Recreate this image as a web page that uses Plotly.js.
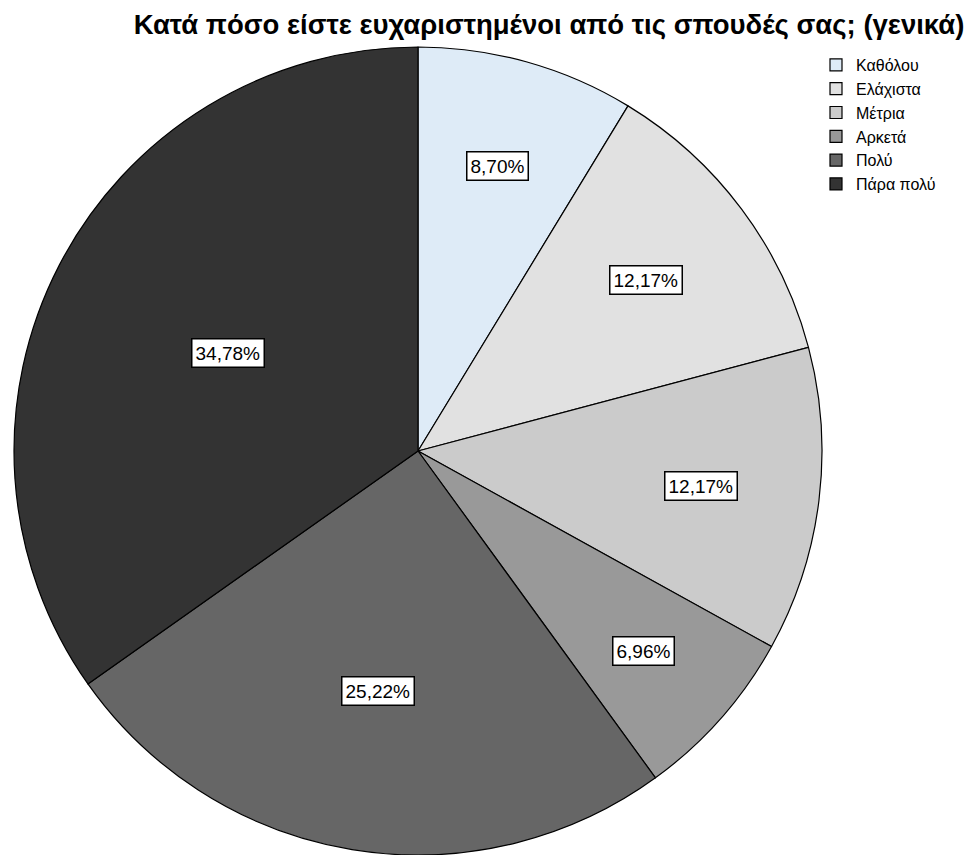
<!DOCTYPE html>
<html>
<head>
<meta charset="utf-8">
<script src="https://cdn.plot.ly/plotly-3.0.1.min.js"></script>
<style>html,body{margin:0;padding:0;background:#fff;}#chart{width:974px;height:855px;}</style>
</head>
<body>
<div id="chart"></div>
<script>
const categories = ["Καθόλου", "Ελάχιστα", "Μέτρια", "Αρκετά", "Πολύ", "Πάρα πολύ"];
const percents = [8.70, 12.17, 12.17, 6.96, 25.22, 34.78];
const labelsText = ["8,70%", "12,17%", "12,17%", "6,96%", "25,22%", "34,78%"];
const sliceColors = ["#deebf7", "#e1e1e1", "#cbcbcb", "#999999", "#666666", "#333333"];

const W = 974, H = 855;
const cx = 418, cyTop = 451, R = 404;

const total = percents.reduce((a, b) => a + b, 0);
const annotations = [];
let cum = 0;
percents.forEach((p, i) => {
  const f = p / total;
  const mid = (cum + f / 2) * 2 * Math.PI;
  cum += f;
  const rf = 0.8 - 0.78 * f;
  const px = cx + R * rf * Math.sin(mid);
  const py = cyTop - R * rf * Math.cos(mid);
  annotations.push({
    xref: 'paper', yref: 'paper',
    x: px / W, y: 1 - py / H,
    text: labelsText[i], showarrow: false,
    font: {family: 'Liberation Sans, Arial, sans-serif', size: 19, color: '#000'},
    bgcolor: '#ffffff', bordercolor: '#000000', borderwidth: 1.5, borderpad: 3,
    xanchor: 'center', yanchor: 'middle'
  });
});

const trace = {
  type: 'pie',
  labels: categories,
  values: percents,
  sort: false,
  direction: 'clockwise',
  rotation: 0,
  textinfo: 'none',
  hoverinfo: 'label+percent',
  marker: {colors: sliceColors, line: {color: '#000000', width: 1.2}},
  domain: {x: [(cx - R) / W, (cx + R) / W], y: [0, (2 * R) / H]}
};

const layout = {
  width: W, height: H,
  margin: {l: 0, r: 0, t: 0, b: 0},
  paper_bgcolor: '#ffffff',
  title: {
    text: '<b>Κατά πόσο είστε ευχαριστημένοι από τις σπουδές σας; (γενικά)</b>',
    font: {family: 'Liberation Sans, Arial, sans-serif', size: 27.5, color: '#000'},
    x: 549 / W, xanchor: 'center', xref: 'paper',
    y: 1 - 24 / H, yanchor: 'middle', yref: 'container'
  },
  showlegend: true,
  legend: {
    x: 816 / W, y: 1 - 48 / H, xanchor: 'left', yanchor: 'top',
    font: {family: 'Liberation Sans, Arial, sans-serif', size: 16, color: '#000'},
    bgcolor: 'rgba(0,0,0,0)', borderwidth: 0,
    traceorder: 'normal', itemwidth: 30
  },
  annotations: annotations
};

Plotly.newPlot('chart', [trace], layout, {displayModeBar: false, staticPlot: true});
</script>
</body>
</html>
